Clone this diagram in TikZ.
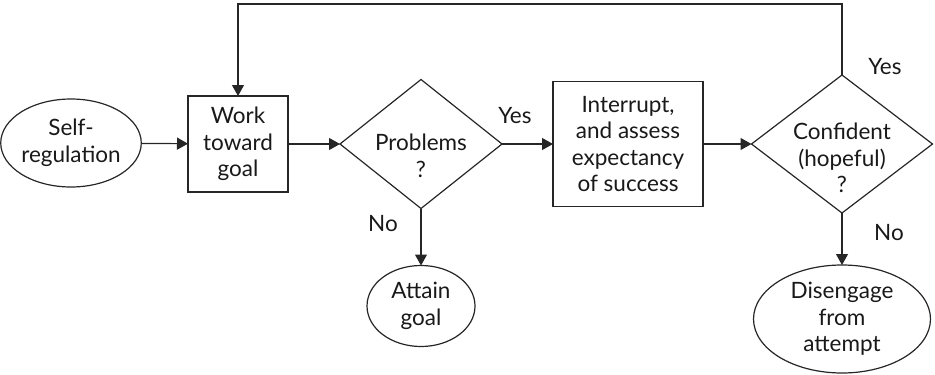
\documentclass[tikz,border=0pt]{standalone}
\usepackage{fontspec}
\setmainfont{Lato}
\usetikzlibrary{arrows.meta,shapes.geometric}
\begin{document}
\begin{tikzpicture}[x=1pt,y=-1pt,
  every node/.style={font=\fontsize{22.5}{26.5}\selectfont, align=center, inner sep=0pt, outer sep=0pt, text=black!90},
  flow/.style={draw=black!85, line width=1.2pt},
  arr/.style={flow, -{Triangle[length=11pt,width=12pt]}},
  oval/.style={draw=black!85, line width=1.2pt, ellipse},
  box/.style={draw=black!85, line width=1.2pt, rectangle},
  choice/.style={draw=black!85, line width=1.2pt, diamond},
  lbl/.style={}
]
\useasboundingbox (0,0) rectangle (935,375);

% flow chart nodes
\node[oval, minimum width=132pt, minimum height=88pt] (selfreg) at (71,143) {Self-\\regulation};
\node[box, minimum width=100pt, minimum height=96pt] (work) at (238,144) {Work\\toward\\goal};
\node[choice, minimum width=162pt, minimum height=129pt] (problems) at (421,144) {};
\node (problemstxt) at (421,156) {Problems\\?};
\node[oval, minimum width=108pt, minimum height=81pt] (attain) at (421,306) {Attain\\goal};
\node[box, minimum width=150pt, minimum height=125pt] (interrupt) at (628,144) {Interrupt,\\and assess\\expectancy\\of success};
\node[choice, minimum width=181pt, minimum height=138pt] (confident) at (842,144) {};
\node (confidenttxt) at (842,158) {Confident\\(hopeful)\\?};
\node[oval, minimum width=177pt, minimum height=108pt] (disengage) at (842,319) {Disengage\\from\\attempt};

% connectors
\draw[arr] (selfreg) -- (work);
\draw[arr] (work) -- (problems);
\draw[arr] (problems) -- (interrupt);
\draw[arr] (problems.south) -- (attain.north);
\draw[arr] (interrupt) -- (confident);
\draw[arr] (confident.south) -- (disengage.north);

% feedback loop back to the work step
\coordinate (topright) at (842,4);
\coordinate (topleft) at (238,4);
\draw[arr] (confident.north) -- (topright) -- (topleft) -- (work.north);

% branch labels
\node[lbl] (yes1) at (515,116) {Yes};
\node[lbl] (no1) at (383,224) {No};
\node[lbl] (yes2) at (885,67) {Yes};
\node[lbl] (no2) at (889,233) {No};
\end{tikzpicture}
\end{document}
